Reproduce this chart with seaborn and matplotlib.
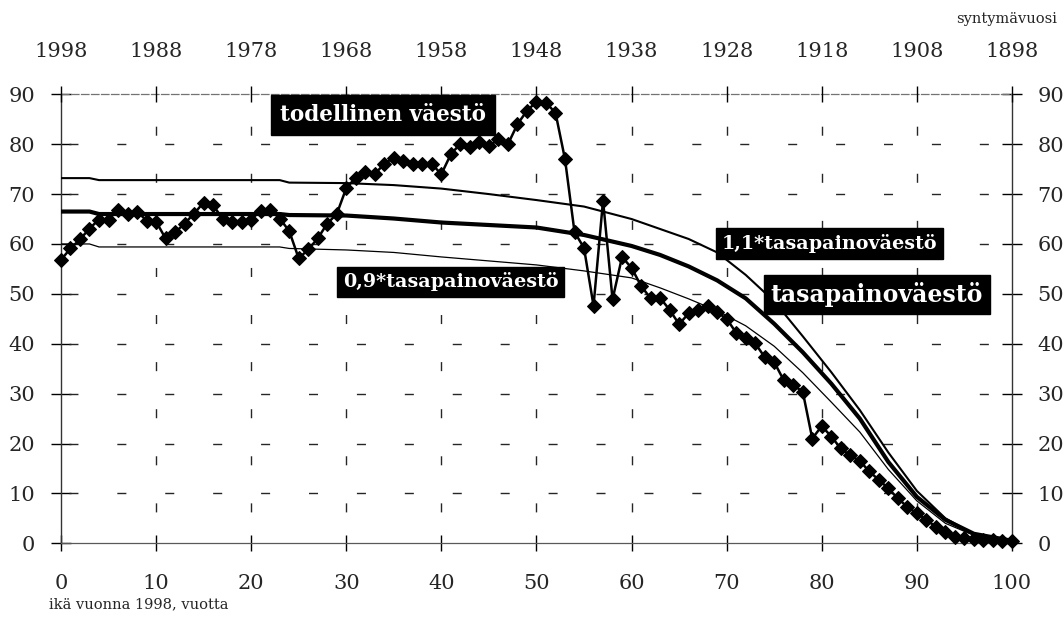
import matplotlib
matplotlib.use("Agg")
import matplotlib.pyplot as plt
import seaborn as sns
import pandas as pd

# ---------------- data ----------------
ages = list(range(0, 101))
todellinen = [56.8, 59.1, 60.9, 63.1, 64.9, 64.9, 66.9, 66.0, 66.5, 64.7,
              64.5, 61.1, 62.3, 64.1, 66.1, 68.3, 67.8, 65.0, 64.5, 64.5,
              64.9, 66.7, 66.9, 65.1, 62.6, 57.1, 58.9, 61.1, 64.1, 66.0,
              71.2, 73.3, 74.5, 74.0, 76.1, 77.3, 76.6, 76.1, 76.0, 76.0,
              74.0, 78.0, 80.1, 79.5, 80.4, 79.6, 81.0, 80.0, 84.0, 86.7,
              88.5, 88.3, 86.3, 77.0, 62.4, 59.2, 47.6, 68.7, 48.9, 57.4,
              55.2, 51.6, 49.1, 49.2, 46.8, 43.9, 46.1, 46.8, 47.6, 46.3,
              45.0, 42.2, 41.1, 40.1, 37.3, 36.3, 32.7, 31.7, 30.4, 21.0,
              23.5, 21.4, 19.0, 17.6, 16.5, 14.4, 12.7, 11.0, 9.0, 7.3,
              6.0, 4.7, 3.3, 2.3, 1.3, 1.0, 0.8, 0.7, 0.6, 0.5, 0.4]

curve_ages = [0, 3, 4, 23, 24, 30, 35, 40, 45, 50, 55, 60, 63, 66, 69,
              72, 75, 78, 81, 84, 87, 90, 93, 96, 100]
tasapaino = [66.5, 66.5, 66.0, 66.0, 65.8, 65.7, 65.1, 64.3, 63.8, 63.3,
             61.8, 59.6, 57.8, 55.5, 52.7, 49.1, 44.0, 38.3, 32.0, 25.0,
             16.3, 9.3, 4.7, 1.9, 0.5]
tasapaino_11 = [73.2, 73.2, 72.8, 72.8, 72.3, 72.2, 71.8, 71.1, 70.0, 68.8,
                67.5, 65.0, 63.0, 61.0, 58.3, 53.8, 48.5, 41.5, 34.3, 26.7,
                18.2, 10.5, 5.0, 1.8, 0.5]
tasapaino_09 = [60.0, 60.0, 59.4, 59.4, 59.1, 58.8, 58.3, 57.4, 56.6, 55.8,
                54.6, 53.2, 51.2, 49.0, 46.6, 43.6, 39.5, 34.2, 28.3, 22.3,
                14.8, 8.5, 4.0, 1.6, 0.4]

age_ticks = [0, 10, 20, 30, 40, 50, 60, 70, 80, 90, 100]
birth_years = ["1998", "1988", "1978", "1968", "1958", "1948", "1938",
               "1928", "1918", "1908", "1898"]
y_ticks = [0, 10, 20, 30, 40, 50, 60, 70, 80, 90]

# ---------------- style ----------------
sns.set_style("white")
plt.rcParams["font.family"] = ["DejaVu Serif"]

fig = plt.figure(figsize=(10.64, 6.18), dpi=100)
ax = fig.add_axes([0.0573, 0.1209, 0.8938, 0.7265])

df_act = pd.DataFrame({"ika": ages, "vaesto": todellinen})
df_cur = pd.DataFrame({"ika": curve_ages, "t10": tasapaino,
                       "t11": tasapaino_11, "t09": tasapaino_09})

ax.set_xlim(0, 100)
ax.set_ylim(0, 90)

# dashed grid at the tick positions
ax.vlines(age_ticks[1:-1], 0, 90, colors="0.15", linewidth=1.0,
          linestyles=(11.5, (6.5, 27.4)), zorder=1)
ax.hlines(y_ticks[1:-1], 0, 100, colors="0.15", linewidth=1.0,
          linestyles=(28.8, (6.5, 28.0)), zorder=1)

sns.lineplot(data=df_cur, x="ika", y="t11", ax=ax, color="black", lw=1.5,
             zorder=3)
sns.lineplot(data=df_cur, x="ika", y="t09", ax=ax, color="black", lw=0.9,
             zorder=3)
sns.lineplot(data=df_cur, x="ika", y="t10", ax=ax, color="black", lw=3.0,
             zorder=3)
sns.lineplot(data=df_act, x="ika", y="vaesto", ax=ax, color="black", lw=1.8,
             marker="D", markersize=7.5, markeredgecolor="black",
             markerfacecolor="black", zorder=4, clip_on=False)

ax.set_xlim(0, 100)
ax.set_ylim(0, 90)
ax.set_xlabel("")
ax.set_ylabel("")
ax.set_xticks(age_ticks)
ax.set_yticks(y_ticks)

for s in ["left", "right"]:
    ax.spines[s].set_linestyle((0, (2, 1)))
    ax.spines[s].set_linewidth(1.0)
    ax.spines[s].set_color("0.2")
ax.spines["bottom"].set_linewidth(0.9)
ax.spines["bottom"].set_color("0.35")
ax.spines["top"].set_linestyle((0, (6, 2)))
ax.spines["top"].set_linewidth(0.9)
ax.spines["top"].set_color("0.45")

ax.tick_params(axis="y", which="both", left=True, right=True,
               labelleft=True, labelright=True, direction="inout",
               length=14, width=1.0, color="black", labelsize=15, pad=11.5)
ax.tick_params(axis="x", bottom=True, direction="inout", length=11.5,
               width=1.0, color="black", labelsize=15, pad=16.5)

# top axis with birth years
ax2 = ax.twiny()
ax2.set_xlim(0, 100)
ax2.set_xticks(age_ticks)
ax2.set_xticklabels(birth_years)
ax2.tick_params(axis="x", top=True, direction="inout", length=11.5,
                width=1.0, color="black", labelsize=15, pad=18)
for s in ax2.spines.values():
    s.set_visible(False)

# axis texts
fig.text(49 / 1064, 1 - 604 / 618, "ikä vuonna 1998, vuotta", fontsize=10.5,
         ha="left", va="center")
fig.text(1057 / 1064, 1 - 19 / 618, "syntymävuosi", fontsize=10.5,
         ha="right", va="center")

# labels
box = dict(boxstyle="square,pad=0.3", facecolor="black", edgecolor="black")
box_big = dict(boxstyle="square,pad=0.42", facecolor="black",
               edgecolor="black")
ax.text(33.9, 85.8, "todellinen väestö", color="white", fontsize=15.5,
        fontweight="bold", ha="center", va="center", bbox=box_big, zorder=6)
ax.text(41.0, 52.4, "0,9*tasapainoväestö", color="white", fontsize=13.8,
        fontweight="bold", ha="center", va="center", bbox=box, zorder=6)
ax.text(80.8, 60.1, "1,1*tasapainoväestö", color="white", fontsize=13.8,
        fontweight="bold", ha="center", va="center", bbox=box, zorder=6)
ax.text(85.8, 49.8, "tasapainoväestö", color="white", fontsize=17,
        fontweight="bold", ha="center", va="center", bbox=box, zorder=6)

fig.savefig("out.png", dpi=100)
